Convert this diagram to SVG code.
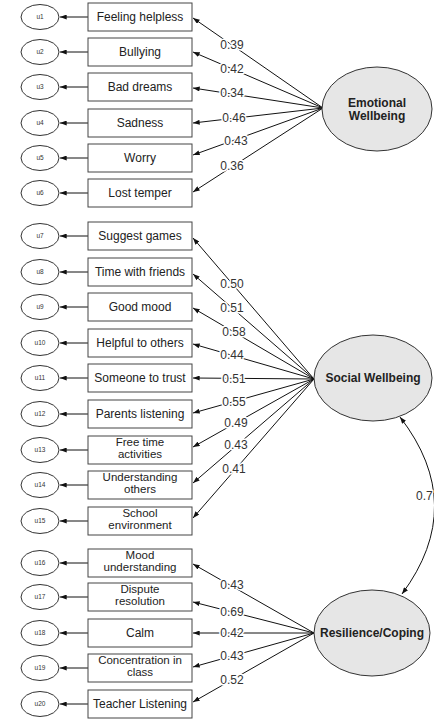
<svg xmlns="http://www.w3.org/2000/svg" width="434" height="719" viewBox="0 0 434 719">
  <defs>
    <marker id="arr" viewBox="0 0 8 6" refX="8" refY="3" markerWidth="7" markerHeight="5" markerUnits="userSpaceOnUse" orient="auto-start-reverse">
      <path d="M0,0 L8,3 L0,6 z" fill="#111"/>
    </marker>
    <style>
      .box{fill:#fff;stroke:#444;stroke-width:1}
      .err{fill:#fff;stroke:#333;stroke-width:1}
      .lat{fill:#e6e6e6;stroke:#333;stroke-width:1}
      .t{font-family:"Liberation Sans",Arial,sans-serif;font-size:12px;fill:#222;text-anchor:middle}
      .t2{font-family:"Liberation Sans",Arial,sans-serif;font-size:11.5px;fill:#222;text-anchor:middle}
      .u{font-family:"Liberation Sans",Arial,sans-serif;font-size:6.5px;fill:#333;text-anchor:middle}
      .lt{font-family:"Liberation Sans",Arial,sans-serif;font-size:12px;font-weight:bold;fill:#222;text-anchor:middle}
      .w{font-family:"Liberation Sans",Arial,sans-serif;font-size:12px;fill:#333;text-anchor:middle;stroke:#fff;stroke-width:3;paint-order:stroke;stroke-linejoin:round}
      .c line,.c path{stroke:#111;stroke-width:1;fill:none;marker-end:url(#arr)}
      .c path{marker-start:url(#arr)}
    </style>
  </defs>
  <rect width="434" height="719" fill="#fff"/>

  <!-- connectors -->
  <g id="connectors" class="c">
    <!-- residual arrows -->
    <line x1="88" y1="17" x2="60" y2="17"/>
    <line x1="88" y1="52" x2="60" y2="52"/>
    <line x1="88" y1="87" x2="60" y2="87"/>
    <line x1="88" y1="123" x2="60" y2="123"/>
    <line x1="88" y1="158" x2="60" y2="158"/>
    <line x1="88" y1="193" x2="60" y2="193"/>
    <line x1="88" y1="236" x2="60" y2="236"/>
    <line x1="88" y1="272" x2="60" y2="272"/>
    <line x1="88" y1="307" x2="60" y2="307"/>
    <line x1="88" y1="343" x2="60" y2="343"/>
    <line x1="88" y1="378" x2="60" y2="378"/>
    <line x1="88" y1="414" x2="60" y2="414"/>
    <line x1="88" y1="450" x2="60" y2="450"/>
    <line x1="88" y1="485" x2="60" y2="485"/>
    <line x1="88" y1="521" x2="60" y2="521"/>
    <line x1="88" y1="563" x2="60" y2="563"/>
    <line x1="88" y1="597" x2="60" y2="597"/>
    <line x1="88" y1="633" x2="60" y2="633"/>
    <line x1="88" y1="668" x2="60" y2="668"/>
    <line x1="88" y1="704" x2="60" y2="704"/>
    <!-- emotional loadings -->
    <line x1="323" y1="108" x2="193" y2="18"/>
    <line x1="323" y1="108" x2="193" y2="52"/>
    <line x1="323" y1="108" x2="193" y2="88"/>
    <line x1="323" y1="108" x2="193" y2="123"/>
    <line x1="323" y1="108" x2="193" y2="155"/>
    <line x1="323" y1="108" x2="193" y2="192"/>
    <!-- social loadings -->
    <line x1="314" y1="379" x2="193" y2="238"/>
    <line x1="314" y1="379" x2="193" y2="274"/>
    <line x1="314" y1="379" x2="193" y2="308"/>
    <line x1="314" y1="379" x2="193" y2="344"/>
    <line x1="314" y1="379" x2="193" y2="378"/>
    <line x1="314" y1="379" x2="193" y2="413"/>
    <line x1="314" y1="379" x2="193" y2="447"/>
    <line x1="314" y1="379" x2="193" y2="483"/>
    <line x1="314" y1="379" x2="193" y2="518"/>
    <!-- resilience loadings -->
    <line x1="314" y1="633" x2="193" y2="564"/>
    <line x1="314" y1="633" x2="193" y2="602"/>
    <line x1="314" y1="633" x2="193" y2="633"/>
    <line x1="314" y1="633" x2="193" y2="667"/>
    <line x1="314" y1="633" x2="193" y2="702"/>
    <!-- covariance -->
    <path d="M400,417 Q468,505 402,594"/>
  </g>

  <!-- loading labels -->
  <g id="labels">
    <text class="w" x="232" y="49">0.39</text>
    <text class="w" x="232" y="73">0.42</text>
    <text class="w" x="232" y="97">0.34</text>
    <text class="w" x="234" y="122">0.46</text>
    <text class="w" x="236" y="145">0.43</text>
    <text class="w" x="232" y="170">0.36</text>
    <text class="w" x="232" y="288">0.50</text>
    <text class="w" x="232" y="312">0.51</text>
    <text class="w" x="234" y="336">0.58</text>
    <text class="w" x="232" y="359">0.44</text>
    <text class="w" x="234" y="383">0.51</text>
    <text class="w" x="234" y="406">0.55</text>
    <text class="w" x="236" y="427">0.49</text>
    <text class="w" x="236" y="449">0.43</text>
    <text class="w" x="234" y="473">0.41</text>
    <text class="w" x="232" y="589">0.43</text>
    <text class="w" x="232" y="616">0.69</text>
    <text class="w" x="232" y="637">0.42</text>
    <text class="w" x="232" y="660">0.43</text>
    <text class="w" x="232" y="684">0.52</text>
    <text class="w" x="416" y="500" style="text-anchor:start">0.7</text>
  </g>

  <!-- latent factors -->
  <g id="emotional">
    <ellipse class="lat" cx="377" cy="109" rx="55" ry="42"/>
    <text class="lt" x="377" y="107">Emotional</text>
    <text class="lt" x="377" y="120">Wellbeing</text>
  </g>
  <g id="social">
    <ellipse class="lat" cx="373" cy="378" rx="59" ry="43"/>
    <text class="lt" x="373" y="382">Social Wellbeing</text>
  </g>
  <g id="resilience">
    <ellipse class="lat" cx="372" cy="633" rx="58" ry="43"/>
    <text class="lt" x="372" y="637">Resilience/Coping</text>
  </g>

  <!-- indicators -->
  <g id="i1"><rect class="box" x="88" y="3" width="104" height="28"/><text class="t" x="140" y="21">Feeling helpless</text></g>
  <g id="i2"><rect class="box" x="88" y="38" width="104" height="28"/><text class="t" x="140" y="56">Bullying</text></g>
  <g id="i3"><rect class="box" x="88" y="73" width="104" height="28"/><text class="t" x="140" y="91">Bad dreams</text></g>
  <g id="i4"><rect class="box" x="88" y="109" width="104" height="28"/><text class="t" x="140" y="127">Sadness</text></g>
  <g id="i5"><rect class="box" x="88" y="144" width="104" height="28"/><text class="t" x="140" y="162">Worry</text></g>
  <g id="i6"><rect class="box" x="88" y="179" width="104" height="28"/><text class="t" x="140" y="197">Lost temper</text></g>
  <g id="i7"><rect class="box" x="88" y="222" width="104" height="28"/><text class="t" x="140" y="240">Suggest games</text></g>
  <g id="i8"><rect class="box" x="88" y="258" width="104" height="28"/><text class="t" x="140" y="276">Time with friends</text></g>
  <g id="i9"><rect class="box" x="88" y="293" width="104" height="28"/><text class="t" x="140" y="311">Good mood</text></g>
  <g id="i10"><rect class="box" x="88" y="329" width="104" height="28"/><text class="t" x="140" y="347">Helpful to others</text></g>
  <g id="i11"><rect class="box" x="88" y="364" width="104" height="28"/><text class="t" x="140" y="382">Someone to trust</text></g>
  <g id="i12"><rect class="box" x="88" y="400" width="104" height="28"/><text class="t" x="140" y="418">Parents listening</text></g>
  <g id="i13"><rect class="box" x="88" y="436" width="104" height="28"/><text class="t2" x="140" y="446">Free time</text><text class="t2" x="140" y="458">activities</text></g>
  <g id="i14"><rect class="box" x="88" y="471" width="104" height="28"/><text class="t2" x="140" y="481">Understanding</text><text class="t2" x="140" y="493">others</text></g>
  <g id="i15"><rect class="box" x="88" y="507" width="104" height="28"/><text class="t2" x="140" y="517">School</text><text class="t2" x="140" y="529">environment</text></g>
  <g id="i16"><rect class="box" x="88" y="549" width="104" height="28"/><text class="t2" x="140" y="559">Mood</text><text class="t2" x="140" y="571">understanding</text></g>
  <g id="i17"><rect class="box" x="88" y="583" width="104" height="28"/><text class="t2" x="140" y="593">Dispute</text><text class="t2" x="140" y="605">resolution</text></g>
  <g id="i18"><rect class="box" x="88" y="619" width="104" height="28"/><text class="t" x="140" y="637">Calm</text></g>
  <g id="i19"><rect class="box" x="88" y="654" width="104" height="28"/><text class="t2" x="140" y="664">Concentration in</text><text class="t2" x="140" y="676">class</text></g>
  <g id="i20"><rect class="box" x="88" y="690" width="104" height="28"/><text class="t" x="140" y="708">Teacher Listening</text></g>

  <!-- residual terms -->
  <g id="u1"><ellipse class="err" cx="40" cy="17" rx="19" ry="12.5"/><text class="u" x="40" y="19">u1</text></g>
  <g id="u2"><ellipse class="err" cx="40" cy="52" rx="19" ry="12.5"/><text class="u" x="40" y="54">u2</text></g>
  <g id="u3"><ellipse class="err" cx="40" cy="87" rx="19" ry="12.5"/><text class="u" x="40" y="89">u3</text></g>
  <g id="u4"><ellipse class="err" cx="40" cy="123" rx="19" ry="12.5"/><text class="u" x="40" y="125">u4</text></g>
  <g id="u5"><ellipse class="err" cx="40" cy="158" rx="19" ry="12.5"/><text class="u" x="40" y="160">u5</text></g>
  <g id="u6"><ellipse class="err" cx="40" cy="193" rx="19" ry="12.5"/><text class="u" x="40" y="195">u6</text></g>
  <g id="u7"><ellipse class="err" cx="40" cy="236" rx="19" ry="12.5"/><text class="u" x="40" y="238">u7</text></g>
  <g id="u8"><ellipse class="err" cx="40" cy="272" rx="19" ry="12.5"/><text class="u" x="40" y="274">u8</text></g>
  <g id="u9"><ellipse class="err" cx="40" cy="307" rx="19" ry="12.5"/><text class="u" x="40" y="309">u9</text></g>
  <g id="u10"><ellipse class="err" cx="40" cy="343" rx="19" ry="12.5"/><text class="u" x="40" y="345">u10</text></g>
  <g id="u11"><ellipse class="err" cx="40" cy="378" rx="19" ry="12.5"/><text class="u" x="40" y="380">u11</text></g>
  <g id="u12"><ellipse class="err" cx="40" cy="414" rx="19" ry="12.5"/><text class="u" x="40" y="416">u12</text></g>
  <g id="u13"><ellipse class="err" cx="40" cy="450" rx="19" ry="12.5"/><text class="u" x="40" y="452">u13</text></g>
  <g id="u14"><ellipse class="err" cx="40" cy="485" rx="19" ry="12.5"/><text class="u" x="40" y="487">u14</text></g>
  <g id="u15"><ellipse class="err" cx="40" cy="521" rx="19" ry="12.5"/><text class="u" x="40" y="523">u15</text></g>
  <g id="u16"><ellipse class="err" cx="40" cy="563" rx="19" ry="12.5"/><text class="u" x="40" y="565">u16</text></g>
  <g id="u17"><ellipse class="err" cx="40" cy="597" rx="19" ry="12.5"/><text class="u" x="40" y="599">u17</text></g>
  <g id="u18"><ellipse class="err" cx="40" cy="633" rx="19" ry="12.5"/><text class="u" x="40" y="635">u18</text></g>
  <g id="u19"><ellipse class="err" cx="40" cy="668" rx="19" ry="12.5"/><text class="u" x="40" y="670">u19</text></g>
  <g id="u20"><ellipse class="err" cx="40" cy="704" rx="19" ry="12.5"/><text class="u" x="40" y="706">u20</text></g>
</svg>
